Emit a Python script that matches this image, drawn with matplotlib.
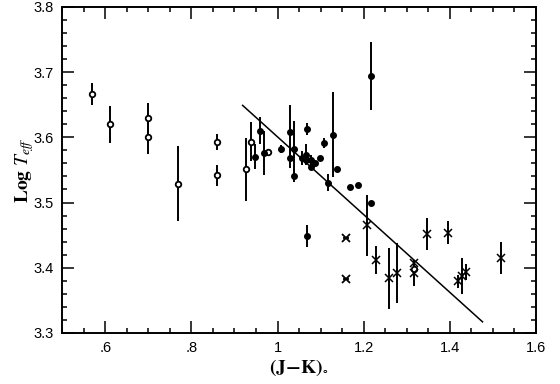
import matplotlib
matplotlib.use('Agg')
import matplotlib.pyplot as plt
from matplotlib.ticker import MultipleLocator, FixedLocator

# open circles
open_x = [0.569, 0.610, 0.700, 0.700, 0.769, 0.860, 0.860, 0.928, 0.939, 0.979, 1.318]
open_y = [3.667, 3.620, 3.630, 3.601, 3.529, 3.593, 3.542, 3.551, 3.593, 3.577, 3.398]
open_err = [0.017, 0.028, 0.023, 0.027, 0.057, 0.012, 0.016, 0.048, 0.030, 0.0, 0.0]

# filled circles
fill_x = [0.948, 0.959, 0.969, 1.009, 1.028, 1.028, 1.039, 1.039, 1.068, 1.056, 1.067, 1.067,
          1.077, 1.077, 1.088, 1.098, 1.107, 1.128, 1.138, 1.117, 1.168, 1.187, 1.217, 1.218, 1.069]
fill_y = [3.570, 3.610, 3.576, 3.582, 3.608, 3.568, 3.582, 3.541, 3.613, 3.568, 3.573, 3.565,
          3.565, 3.554, 3.560, 3.568, 3.591, 3.604, 3.551, 3.530, 3.524, 3.527, 3.500, 3.694, 3.449]
fill_err = [0.019, 0.021, 0.034, 0.006, 0.042, 0.015, 0.043, 0.010, 0.009, 0.011, 0.016, 0.0,
            0.008, 0.0, 0.0, 0.0, 0.008, 0.065, 0.0, 0.013, 0.0, 0.0, 0.0, 0.052, 0.017]

# asterisks
ast_x = [1.160, 1.160]
ast_y = [3.446, 3.383]

# crosses
cross_x = [1.208, 1.229, 1.259, 1.278, 1.318, 1.318, 1.347, 1.397, 1.419, 1.428, 1.438, 1.519]
cross_y = [3.465, 3.412, 3.384, 3.392, 3.407, 3.392, 3.452, 3.454, 3.379, 3.387, 3.393, 3.415]
cross_err = [0.047, 0.022, 0.047, 0.046, 0.0, 0.020, 0.025, 0.017, 0.010, 0.028, 0.012, 0.024]

# fitted line
line_x = [0.919, 1.476]
line_y = [3.649, 3.317]

x_ticks = [0.6, 0.8, 1.0, 1.2, 1.4, 1.6]
x_labels = ['.6', '.8', '1', '1.2', '1.4', '1.6']
y_ticks = [3.3, 3.4, 3.5, 3.6, 3.7, 3.8]
y_labels = ['3.3', '3.4', '3.5', '3.6', '3.7', '3.8']

plt.rcParams['mathtext.fontset'] = 'stix'

fig = plt.figure(figsize=(5.6, 3.84), dpi=100)
ax = fig.add_axes([0.111, 0.133, 0.846, 0.849])

ek = dict(fmt='none', ecolor='black', elinewidth=1.4, capsize=0)
ax.errorbar(open_x, open_y, yerr=open_err, **ek)
ax.errorbar(fill_x, fill_y, yerr=fill_err, **ek)
ax.errorbar(cross_x, cross_y, yerr=cross_err, **ek)

ax.plot(line_x, line_y, color='black', lw=1.1)

ax.plot(open_x, open_y, 'o', ms=4.0, mfc='white', mec='black', mew=1.3, ls='none')
ax.plot(fill_x, fill_y, 'o', ms=4.0, color='black', ls='none')
ax.plot(cross_x, cross_y, 'x', ms=5.5, color='black', mew=1.1, ls='none')
for xx, yy in zip(ast_x, ast_y):
    ax.plot([xx], [yy], 'x', ms=5.5, color='black', mew=1.3)
    ax.plot([xx], [yy], '_', ms=5, color='black', mew=1.3)

ax.set_xlim(0.5, 1.6)
ax.set_ylim(3.3, 3.8)

ax.xaxis.set_major_locator(FixedLocator(x_ticks))
ax.set_xticklabels(x_labels)
ax.xaxis.set_minor_locator(MultipleLocator(0.05))
ax.yaxis.set_major_locator(FixedLocator(y_ticks))
ax.set_yticklabels(y_labels)
ax.yaxis.set_minor_locator(MultipleLocator(0.02))

ax.tick_params(which='both', direction='in', top=True, right=True, width=1.1)
ax.tick_params(which='major', length=8.5, labelsize=10.5, pad=6)
ax.tick_params(which='minor', length=3.8)
for lab in ax.get_xticklabels() + ax.get_yticklabels():
    lab.set_family('Liberation Sans')
for sp in ax.spines.values():
    sp.set_linewidth(1.4)

ax.set_xlabel(r'$\mathbf{(J\!-\!K)}_{\circ}$', fontsize=14, labelpad=2)
ax.set_ylabel(r'$\mathbf{Log}\ T_{eff}$', fontsize=14)
ax.yaxis.set_label_coords(-0.055, 0.5)

fig.savefig('out.png', dpi=100)
